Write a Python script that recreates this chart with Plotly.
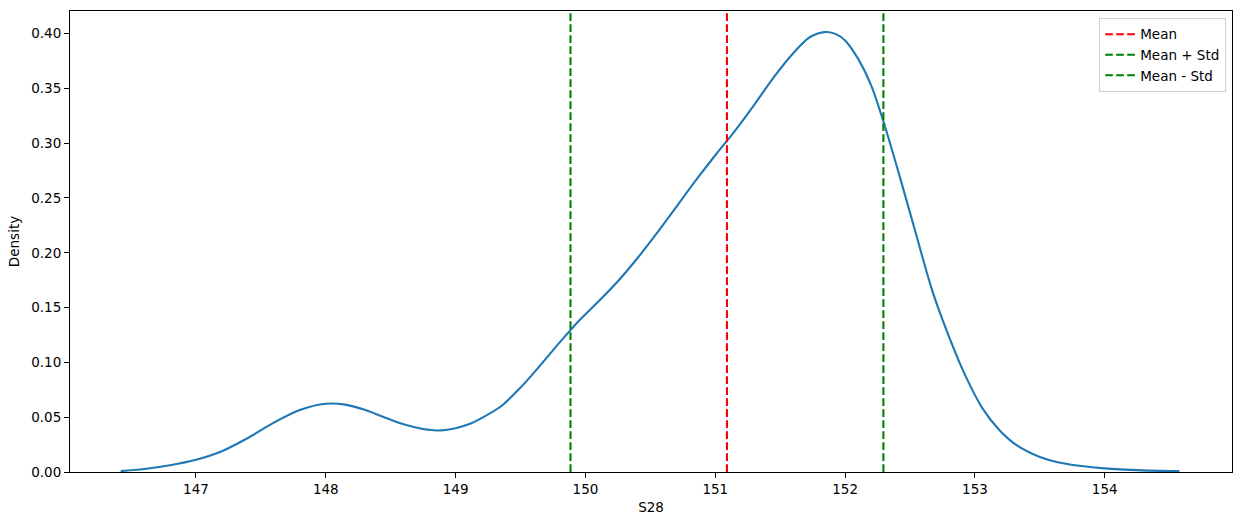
import plotly.graph_objects as go

# KDE curve
x_vals = [146.42, 146.60, 146.80, 147.00, 147.20, 147.40, 147.60, 147.80, 148.00, 148.15,
          148.30, 148.45, 148.60, 148.75, 148.86, 149.00, 149.10, 149.20, 149.35, 149.50,
          149.65, 149.80, 149.95, 150.10, 150.25, 150.40, 150.55, 150.70, 150.85, 151.00,
          151.15, 151.30, 151.45, 151.60, 151.72, 151.79, 151.86, 151.93, 152.00, 152.10,
          152.20, 152.30, 152.415, 152.544, 152.67, 152.80, 152.93, 153.057, 153.186, 153.315,
          153.49, 153.70, 154.00, 154.29, 154.575]
density = [0.0008, 0.0027, 0.0062, 0.0112, 0.019, 0.031, 0.045, 0.0565, 0.0622, 0.0615,
           0.0567, 0.050, 0.0435, 0.0392, 0.0379, 0.040, 0.0435, 0.0492, 0.060, 0.077,
           0.097, 0.118, 0.138, 0.1555, 0.174, 0.195, 0.218, 0.242, 0.266, 0.289,
           0.311, 0.335, 0.360, 0.382, 0.396, 0.400, 0.4015, 0.3995, 0.3937, 0.377,
           0.353, 0.318, 0.272, 0.218, 0.166, 0.1236, 0.087, 0.0583, 0.0385, 0.0249,
           0.0142, 0.0075, 0.0033, 0.0015, 0.0008]

mean_val = 151.09
mean_plus_std = 152.295
mean_minus_std = 149.885

x_ticks = [147, 148, 149, 150, 151, 152, 153, 154]
y_ticks = [0.00, 0.05, 0.10, 0.15, 0.20, 0.25, 0.30, 0.35, 0.40]

x_range = [146.03, 154.98]
y_range = [0, 0.4206]

dash = "7.7px,3.3px"
fig = go.Figure()
fig.add_trace(go.Scatter(x=x_vals, y=density, mode="lines", showlegend=False,
                         line=dict(color="#1f77b4", width=2.1, shape="spline", smoothing=0.8)))
fig.add_trace(go.Scatter(x=[mean_val, mean_val], y=y_range, mode="lines", name="Mean",
                         line=dict(color="red", width=2.1, dash=dash)))
fig.add_trace(go.Scatter(x=[mean_plus_std, mean_plus_std], y=y_range, mode="lines", name="Mean + Std",
                         line=dict(color="green", width=2.1, dash=dash)))
fig.add_trace(go.Scatter(x=[mean_minus_std, mean_minus_std], y=y_range, mode="lines", name="Mean - Std",
                         line=dict(color="green", width=2.1, dash=dash)))

font = dict(family="DejaVu Sans", size=13.5, color="black")
fig.update_layout(
    width=1242, height=525,
    margin=dict(l=70, r=10, t=11, b=53),
    paper_bgcolor="white", plot_bgcolor="white",
    font=font,
    legend=dict(x=0.995, y=0.985, xanchor="right", yanchor="top",
                bgcolor="rgba(255,255,255,0.8)", bordercolor="#d0d0d0", borderwidth=1,
                font=dict(family="DejaVu Sans", size=13.5, color="black"),
                tracegroupgap=0, itemwidth=30),
)
fig.update_xaxes(range=x_range, tickvals=x_ticks, ticktext=[str(t) for t in x_ticks],
                 showgrid=False, zeroline=False, showline=True, linecolor="black", linewidth=1.1,
                 mirror=True, ticks="outside", ticklen=5, tickwidth=1.1, tickcolor="black",
                 title=dict(text="S28", standoff=6, font=dict(family="DejaVu Sans", size=13.5, color="black")))
fig.update_yaxes(range=y_range, tickvals=y_ticks, ticktext=[f"{t:.2f}" for t in y_ticks],
                 showgrid=False, zeroline=False, showline=True, linecolor="black", linewidth=1.1,
                 mirror=True, ticks="outside", ticklen=5, tickwidth=1.1, tickcolor="black",
                 title=dict(text="Density", standoff=8, font=dict(family="DejaVu Sans", size=13.5, color="black")))

fig.write_html("out.html", config={"displayModeBar": False},
               post_script="document.body.style.margin='0';")
